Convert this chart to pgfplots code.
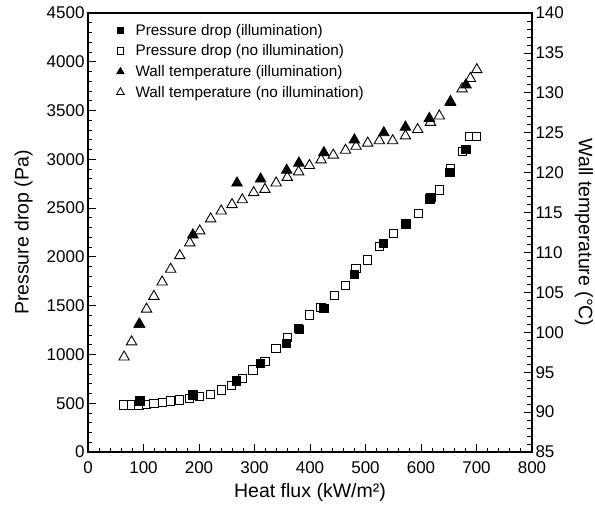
\documentclass[border=0pt]{standalone}
\usepackage{fontspec}
\setmainfont{Liberation Sans}
\usepackage{pgfplots}
\pgfplotsset{compat=1.18}
\begin{document}
\begin{tikzpicture}
\pgfplotsset{
 every axis/.append style={
  scale only axis, width=444pt, height=439pt,
  xmin=0, xmax=800,
  tick align=inside,
  major tick length=8pt, minor tick length=4.5pt,
  every tick/.style={black, line width=0.8pt},
  axis line style={line width=1.3pt},
  /pgf/number format/assume math mode=true,
  /pgf/number format/1000 sep={},
  scaled ticks=false,
  tick label style={font=\fontsize{17}{20}\selectfont},
  label style={font=\fontsize{19.5}{23}\selectfont},
 },
 opensq/.style={only marks, mark=square*, mark size=4.2pt, mark options={fill=white, draw=black, line width=0.9pt}},
 fillsq/.style={only marks, mark=square*, mark size=4.2pt, mark options={fill=black, draw=black, line width=0.9pt}},
 opentri/.style={only marks, mark=triangle*, mark size=6pt, mark options={fill=white, draw=black, line width=0.9pt}},
 filltri/.style={only marks, mark=triangle*, mark size=6pt, mark options={fill=black, draw=black, line width=0.9pt}},
}
\begin{axis}[name=ax,
  ymin=0, ymax=4500,
  xtick={0,100,...,800}, minor x tick num=4,
  ytick={0,500,...,4500}, minor y tick num=4,
  xtick pos=bottom, ytick pos=left,
  xticklabel style={yshift=-6pt},
  xlabel={Heat flux (kW/m²)},
  ylabel={Pressure drop (Pa)},
  xlabel shift=3pt,
  ylabel shift=7pt,
]
\addplot[opensq] coordinates {
(65,482) (78.5,482) (92,482) (105.5,489) (118.7,500) (134,505) (149,522)
(165,533) (183,550) (201,567) (221,591) (240,635) (259,680) (278,755)
(297,840) (319,926) (339,1063) (359,1176) (379,1268) (399,1404) (420,1483)
(444,1602) (464,1705) (483,1883) (504,1968) (525,2104) (550,2242) (573,2337)
(595,2447) (618,2607) (633,2686) (653,2908) (675,3078) (688,3232) (700,3232)
};
\addplot[fillsq] coordinates {
(93.5,522) (189,584) (268,728) (311,909) (358,1114) (381,1258) (425,1473)
(480,1821) (532,2139) (573,2344) (616,2593) (652,2863) (681,3100)
};
\end{axis}
\begin{axis}[
  ymin=85, ymax=140,
  axis y line*=right, axis x line=none,
  ytick={85,90,...,140}, minor y tick num=4,
  ylabel={Wall temperature (°C)},
  ylabel style={rotate=180},
  ylabel shift=4pt,
  legend cell align=left,
  legend image code/.code={\path (-9pt,-4pt) (13pt,4pt); \draw[#1] plot coordinates {(0pt,0pt)};},
  legend style={at={(0,1)}, anchor=north west, xshift=20pt, yshift=-7pt, draw=none, fill=none,
    font=\fontsize{15.3}{18}\selectfont, row sep=4pt},
]
\addlegendimage{only marks, mark=square*, mark size=3.2pt, mark options={fill=black, draw=black}}
\addlegendentry{Pressure drop (illumination)}
\addlegendimage{only marks, mark=square*, mark size=3.2pt, mark options={fill=white, draw=black, line width=0.8pt}}
\addlegendentry{Pressure drop (no illumination)}
\addlegendimage{only marks, mark=triangle*, mark size=4.5pt, mark options={fill=black, draw=black}}
\addlegendentry{Wall temperature (illumination)}
\addlegendimage{only marks, mark=triangle*, mark size=4.5pt, mark options={fill=white, draw=black, line width=0.8pt}}
\addlegendentry{Wall temperature (no illumination)}
\addplot[opentri, forget plot] coordinates {
(65,96.9) (78.5,98.8) (92,101.0) (105.5,102.9) (118.7,104.5) (133.6,106.3) (149,107.9)
(165.4,109.6) (183.4,111.2) (201.4,112.7) (221,114.2) (240,115.2) (259.5,116.0) (278,116.6)
(298.5,117.5) (318.8,117.9) (339,118.7) (359,119.4) (379.5,120.1) (399,120.9) (420,121.6)
(442,122.2) (464,122.8) (483,123.3) (504,123.7) (525,124.0) (549,124.0) (572,124.6)
(594,125.4) (617,126.3) (633,127.1) (653,128.8) (674,130.5) (689,131.8) (700.6,132.9)
};
\addplot[filltri, forget plot] coordinates {
(93,101.0) (189,112.2) (268.5,118.7) (311,119.2) (358,120.3) (380,121.2) (425,122.5)
(480,124.1) (533,125.0) (572,125.7) (615,126.8) (653,128.9) (681,131.0)
};
\end{axis}
\pgfresetboundingbox
\path (ax.south west) ++(-88pt,-52pt) rectangle ++(595pt,504pt);
\end{tikzpicture}
\end{document}
